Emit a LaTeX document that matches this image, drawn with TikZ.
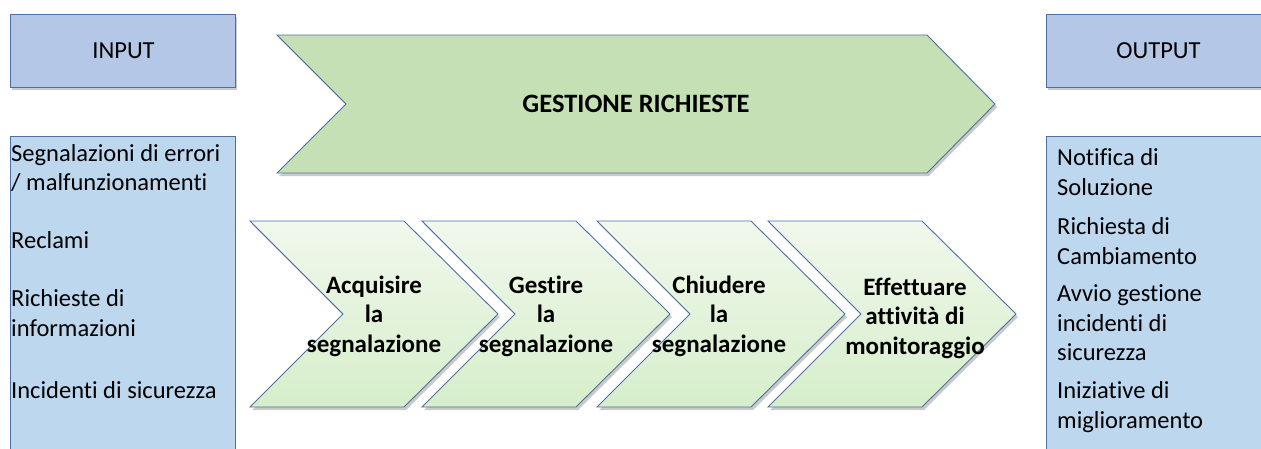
\documentclass[tikz,border=0pt]{standalone}
\usepackage{fontspec}
\setmainfont{Carlito}[Ligatures=NoCommon]
\usetikzlibrary{shadows}
\definecolor{hdrfill}{HTML}{B4C7E7}
\definecolor{listfill}{HTML}{BDD7EE}
\definecolor{bigfill}{HTML}{C5E0B4}
\definecolor{chtop}{HTML}{F1F8EC}
\definecolor{chbot}{HTML}{D6EECA}
\definecolor{bordc}{HTML}{4E6FA6}
\begin{document}
\begin{tikzpicture}[x=1pt,y=-1pt,
  shad/.style={drop shadow={shadow xshift=2pt,shadow yshift=-3pt,opacity=0.35,fill=black!60}},
  hdrbox/.style={draw=bordc,line width=0.9pt,fill=hdrfill,shad},
  listbox/.style={draw=bordc,line width=0.9pt,fill=listfill},
  bigchev/.style={draw=bordc,line width=0.9pt,fill=bigfill,shad},
  smallchev/.style={draw=bordc,line width=0.9pt,top color=chtop,bottom color=chbot,shad},
  txt/.style={font=\fontsize{24.5}{29.5}\selectfont,inner sep=0pt,text=black},
  btxt/.style={font=\bfseries\fontsize{25}{29.5}\selectfont,inner sep=0pt,align=center,text=black},
  itm/.style={txt,anchor=west,align=left}
]
\useasboundingbox (0,0) rectangle (1261,448);
% headers
\draw[hdrbox] (10,14) rectangle (235,87);
\node[txt] (inhdr) at (123.5,51) {INPUT};
\draw[hdrbox] (1046,14) rectangle (1270,87);
\node[txt] (outhdr) at (1158.5,51) {OUTPUT};
% list boxes
\draw[listbox] (10,136) rectangle (235,460);
\draw[listbox] (1046,136) rectangle (1270,460);
% input items
\node[itm] (i1) at (11,168) {Segnalazioni di errori\\/ malfunzionamenti};
\node[itm] (i2) at (11,240) {Reclami};
\node[itm] (i3) at (11,313) {Richieste di\\informazioni};
\node[itm] (i4) at (11,390) {Incidenti di sicurezza};
% output items
\node[itm] (o1) at (1057,172) {Notifica di\\Soluzione};
\node[itm] (o2) at (1057,241) {Richiesta di\\Cambiamento};
\node[itm] (o3) at (1057,323) {Avvio gestione\\incidenti di\\sicurezza};
\node[itm] (o4) at (1057,407) {Iniziative di\\miglioramento};
% big chevron
\draw[bigchev] (277,35) -- (927,35) -- (995,104) -- (927,173) -- (277,173) -- (346,104) -- cycle;
\node[btxt,font=\bfseries\fontsize{26.5}{30}\selectfont] (main) at (636,104) {GESTIONE RICHIESTE};
% small chevrons
\foreach \L in {250,422,597,768}{
  \draw[smallchev] (\L,221) -- (\L+154,221) -- (\L+248,314) -- (\L+154,407) -- (\L,407) -- (\L+93,314) -- cycle;
}
\node[btxt] (c1) at (374,316) {Acquisire\\la\\segnalazione};
\node[btxt] (c2) at (546,316) {Gestire\\la\\segnalazione};
\node[btxt] (c3) at (719,316) {Chiudere\\la\\segnalazione};
\node[btxt] (c4) at (915,318) {Effettuare\\attività di\\monitoraggio};
\end{tikzpicture}
\end{document}
